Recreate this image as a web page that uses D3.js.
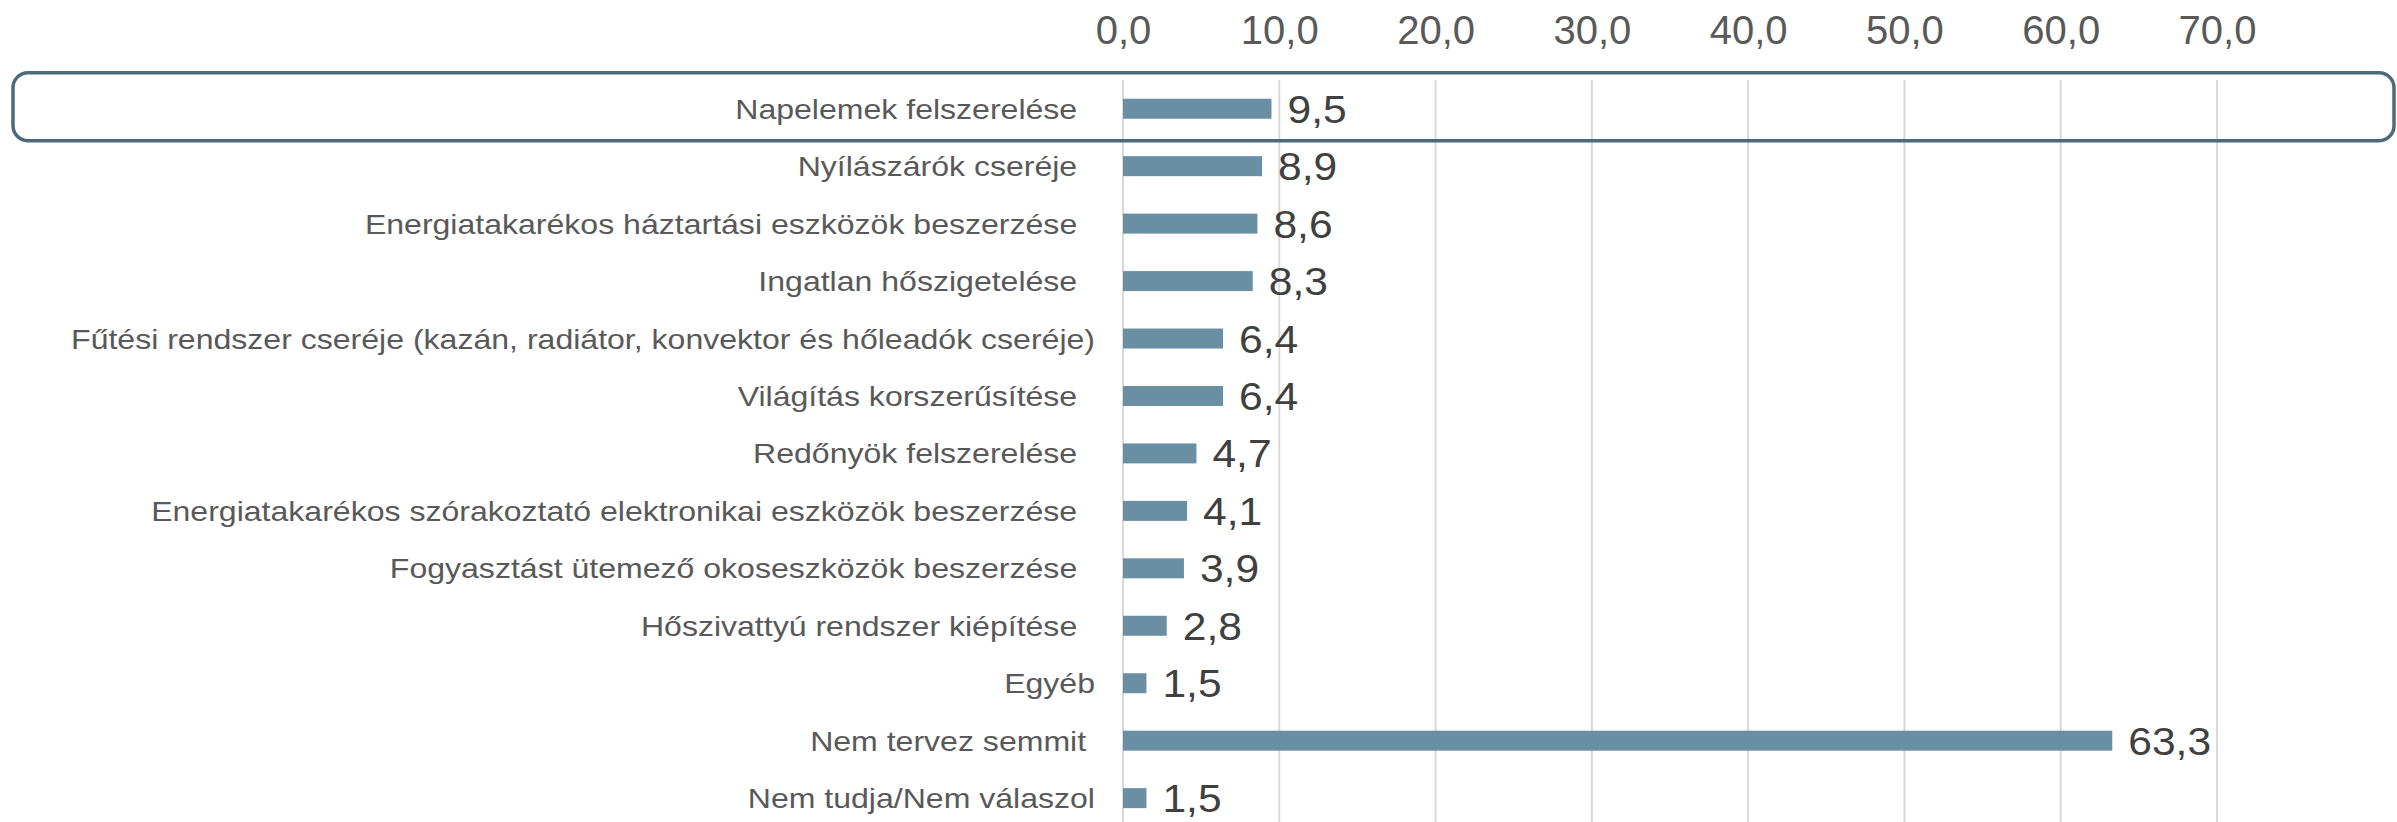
<!DOCTYPE html>
<html>
<head>
<meta charset="utf-8">
<script src="https://cdn.jsdelivr.net/npm/d3@7"></script>
<style>
  html, body { margin: 0; padding: 0; background: #fff; }
  svg { display: block; font-family: "Liberation Sans", Arial, sans-serif; }
</style>
</head>
<body>
<svg id="svg" width="2397" height="822"></svg>
<script>
// Categories, top to bottom (trailing spaces are part of the original labels)
var categories = [
	"Napelemek felszerelése  ",
	"Nyílászárók cseréje  ",
	"Energiatakarékos háztartási eszközök beszerzése  ",
	"Ingatlan hőszigetelése  ",
	"Fűtési rendszer cseréje (kazán, radiátor, konvektor és hőleadók cseréje)",
	"Világítás korszerűsítése  ",
	"Redőnyök felszerelése  ",
	"Energiatakarékos szórakoztató elektronikai eszközök beszerzése  ",
	"Fogyasztást ütemező okoseszközök beszerzése  ",
	"Hőszivattyú rendszer kiépítése  ",
	"Egyéb",
	"Nem tervez semmit ",
	"Nem tudja/Nem válaszol"
];

var values = [9.5, 8.9, 8.6, 8.3, 6.4, 6.4, 4.7, 4.1, 3.9, 2.8, 1.5, 63.3, 1.5];

var tickValues = [0, 10, 20, 30, 40, 50, 60, 70];

// Highlighted row
var highlighted = categories[0];

var huLocale = d3.formatLocale({ decimal: ",", thousands: " ", grouping: [3], currency: ["", " Ft"] }),
	fmt = huLocale.format(".1f");

var svg = d3.select("#svg"),
	width = 2397,
	height = 822,
	plotLeft = 1123,
	plotTop = 80,
	labelRight = 1095;

var x = d3.scaleLinear()
	.domain([0, 70])
	.range([plotLeft, 2217]);

var y = d3.scaleBand()
	.domain(categories)
	.range([plotTop, plotTop + categories.length * 57.45])
	.paddingInner(0.652)
	.paddingOuter(0.326);

// gridlines
svg.append("g")
	.selectAll("line")
	.data(tickValues)
	.enter()
	.append("line")
	.attr("x1", function(d){ return x(d); })
	.attr("x2", function(d){ return x(d); })
	.attr("y1", plotTop)
	.attr("y2", height)
	.style("stroke", "#d9d9d9")
	.style("stroke-width", "2px");

// top axis labels
var axis = d3.axisTop(x)
	.tickValues(tickValues)
	.tickFormat(fmt)
	.tickSize(0)
	.tickPadding(0);

var axisG = svg.append("g")
	.attr("transform", "translate(0,44)")
	.call(axis);

axisG.select(".domain").remove();
axisG.selectAll("text")
	.attr("y", 0)
	.attr("dy", 0)
	.style("font-family", "'Liberation Sans', Arial, sans-serif")
	.style("font-size", "40px")
	.style("fill", "#595959");

// highlight box around selected row
svg.append("rect")
	.attr("x", 13)
	.attr("y", y(highlighted) + y.bandwidth() / 2 - 36)
	.attr("width", 2381)
	.attr("height", 68)
	.attr("rx", 15)
	.attr("ry", 15)
	.style("fill", "none")
	.style("stroke", "#4d6a7b")
	.style("stroke-width", "3.5px");

// bars
svg.append("g")
	.selectAll("rect")
	.data(values)
	.enter()
	.append("rect")
	.attr("x", x(0))
	.attr("y", function(d, i){ return y(categories[i]); })
	.attr("width", function(d){ return x(d) - x(0); })
	.attr("height", y.bandwidth())
	.style("fill", "#6a8fa3");

// category labels (text in the original is a bit wider than plain Arial)
svg.append("g")
	.selectAll("text")
	.data(categories)
	.enter()
	.append("text")
	.attr("transform", function(d){
		return "translate(" + labelRight + "," + (y(d) + y.bandwidth() / 2 + 10) + ") scale(1.145,1)";
	})
	.attr("text-anchor", "end")
	.style("white-space", "pre")
	.style("font-size", "28px")
	.style("fill", "#595959")
	.text(function(d){ return d; });

// value labels
svg.append("g")
	.selectAll("text")
	.data(values)
	.enter()
	.append("text")
	.attr("transform", function(d, i){
		return "translate(" + (x(d) + 16) + "," + (y(categories[i]) + y.bandwidth() / 2 + 14) + ") scale(1.12,1)";
	})
	.style("font-size", "38px")
	.style("fill", "#404040")
	.text(function(d){ return fmt(d); });
</script>
</body>
</html>
